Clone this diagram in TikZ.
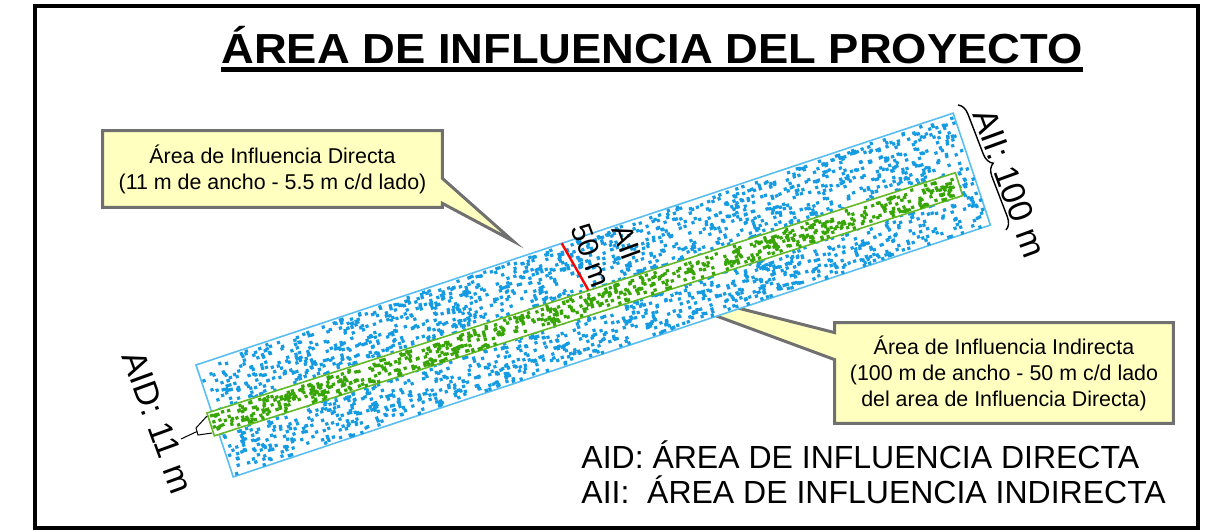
\documentclass[tikz,border=0pt]{standalone}
\usepackage{fontspec}
\setmainfont{Liberation Sans}
\usetikzlibrary{calc,backgrounds,decorations.pathreplacing}
\definecolor{aiiblue}{RGB}{20,155,225}
\definecolor{aiiedge}{RGB}{90,190,240}
\definecolor{aidgreen}{RGB}{55,165,5}
\definecolor{aidedge}{RGB}{100,185,40}
\definecolor{callfill}{RGB}{255,255,192}
\definecolor{calledge}{RGB}{112,112,112}
\tikzset{
  callbox/.style={fill=callfill,draw=calledge,line width=1.5pt,line join=miter},
  calltext/.style={font=\fontsize{10.7}{13}\selectfont,align=center,inner sep=0pt},
  dimtext/.style={font=\fontsize{17}{20}\selectfont,rotate=-70,inner sep=0pt},
  legtext/.style={font=\fontsize{16}{19}\selectfont,inner sep=0pt,anchor=base west},
}
\begin{document}
\begin{tikzpicture}[x=0.5pt,y=-0.5pt]
\useasboundingbox (0,0) rectangle (1214,530);
\clip (0,0) rectangle (1214,530);
\draw[line width=2pt] (35,6) rectangle (1198,528);

\node[font=\bfseries\fontsize{21}{24}\selectfont,xscale=1.08,inner sep=0pt,anchor=base] (titulo) at (652,63) {ÁREA DE INFLUENCIA DEL PROYECTO};
\draw[line width=2.5pt] ([yshift=-3.2pt]titulo.base west) -- ([yshift=-3.2pt]titulo.base east);

\node[calltext,minimum width=169.5pt,minimum height=38pt] (aidnota) at (272.5,169) {Área de Influencia Directa\\(11 m de ancho - 5.5 m c/d lado)};
\coordinate (aidtip) at (513,241);
\node[calltext,minimum width=169pt,minimum height=50pt] (aiinota) at (1004,373) {Área de Influencia Indirecta\\(100 m de ancho - 50 m c/d lado\\del area de Influencia Directa)};
\coordinate (aiitip) at (600,273);
\begin{scope}[on background layer]
\filldraw[callbox] (aidnota.north west) -- (aidnota.north east) -- ([yshift=14.5pt]aidnota.south east) -- (aidtip) -- ([yshift=2pt]aidnota.south east) -- (aidnota.south east) -- (aidnota.south west) -- cycle;
\filldraw[callbox] (aiinota.north west) -- (aiinota.north east) -- (aiinota.south east) -- (aiinota.south west) -- ([yshift=-18.5pt]aiinota.north west) -- (aiitip) -- ([yshift=-5pt]aiinota.north west) -- cycle;
\end{scope}

\pgfmathsetseed{7}
\begin{scope}[shift={(196,365)},rotate=18.4]
\filldraw[fill=white,draw=aiiedge,line width=0.8pt] (0,0) rectangle (798,118);
\fill[aiiblue] \foreach \k in {1,...,2700}{({1+rnd*794},{1+rnd*114}) rectangle ++(3.2,3.2)};
\end{scope}
\begin{scope}[shift={(207,413)},rotate=17.8]
\filldraw[fill=white,draw=aidedge,line width=0.8pt] (0,0) rectangle (786,24);
\fill[aidgreen] \foreach \k in {1,...,750}{({1+rnd*782},{1+rnd*20}) rectangle ++(3.2,3.2)};
\end{scope}

\draw[red,line width=1.2pt] (561.7,243.3) -- (588.3,290);
\draw[line width=0.5pt] (207,416) -- (196,428) -- (198,435) -- (212,433) (197,431.5) -- (181,439);
\draw[line width=0.7pt,decorate,decoration={brace,amplitude=6pt}] (958,105) -- (1006,230);

\node[dimtext] (aiilbl) at (1010,183) {AII: 100 m};
\node[dimtext] (aidlbl) at (158,422) {AID: 11 m};
\node[dimtext,font=\fontsize{14.5}{19}\selectfont,align=center] (aiiancho) at (609,249) {AII\\50 m};

\node[legtext] (legaid) at (581,468) {AID: ÁREA DE INFLUENCIA DIRECTA};
\node[legtext] (legaii) at (581,503) {AII:\ \ ÁREA DE INFLUENCIA INDIRECTA};
\end{tikzpicture}
\end{document}
